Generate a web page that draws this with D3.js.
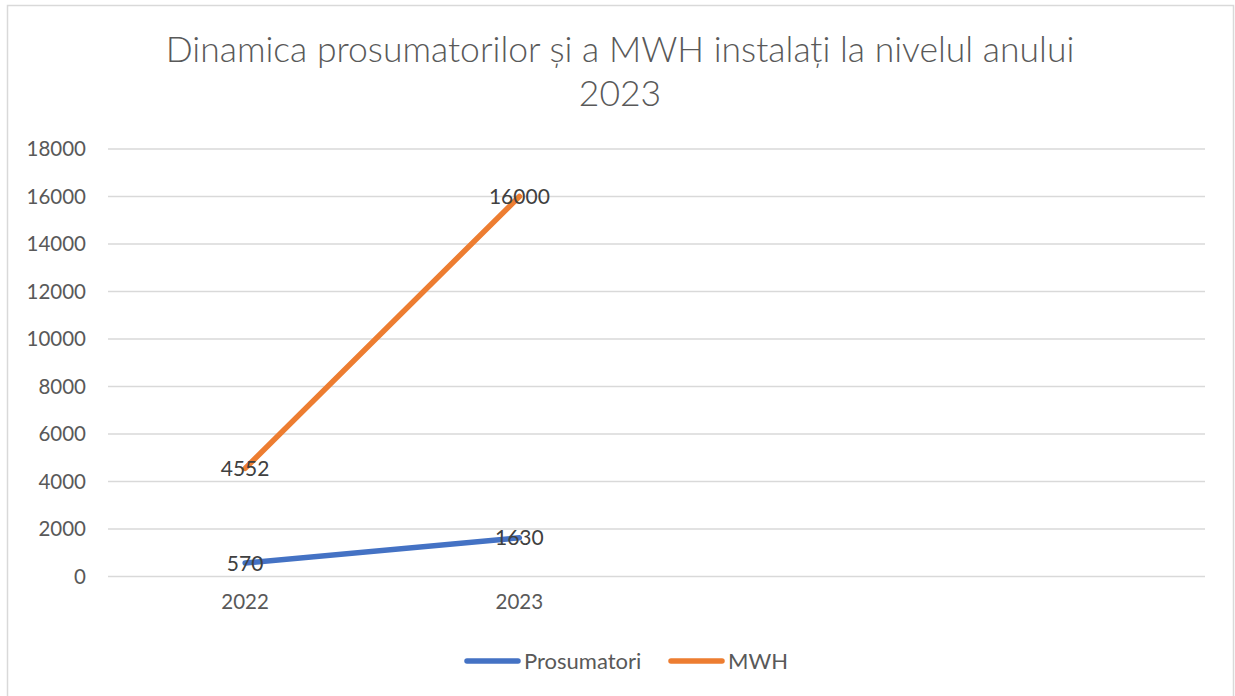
<!DOCTYPE html>
<html lang="ro">
<head>
  <meta charset="utf-8">
  <title>Dinamica prosumatorilor</title>
  <script src="https://cdn.jsdelivr.net/npm/d3@7"></script>
  <style>
    body { margin: 0; background: #fff; }
    text { font-family: Lato, "Open Sans", sans-serif; }
  </style>
</head>
<body>
  <script>
  // date
  var categorii = ["2022", "2023", "", ""];
  var prosumatori = [570, 1630];
  var mwh = [4552, 16000];
  var yTicks = [0, 2000, 4000, 6000, 8000, 10000, 12000, 14000, 16000, 18000];
  var serii = [
    { nume: "Prosumatori", valori: prosumatori, culoare: "#4472C4" },
    { nume: "MWH", valori: mwh, culoare: "#ED7D31" }
  ];

  var width = 1235, height = 696;
  var plot = { left: 108, right: 1205, top: 149, bottom: 576.5 };

  var svg = d3.select("body").append("svg")
    .attr("width", width)
    .attr("height", height);

  // cadrul graficului
  svg.append("rect")
    .attr("x", 7.5).attr("y", 5.5)
    .attr("width", 1226).attr("height", 700)
    .attr("fill", "#fff")
    .attr("stroke", "#d9d9d9")
    .attr("stroke-width", 1.5);

  var x = d3.scaleBand()
    .domain(d3.range(categorii.length))
    .range([plot.left, plot.right])
    .padding(0);

  var y = d3.scaleLinear()
    .domain([0, 18000])
    .range([plot.bottom, plot.top]);

  // titlu
  var titlu = svg.append("g")
    .attr("fill", "#595959")
    .attr("text-anchor", "middle")
    .attr("font-size", 35.5)
    .attr("font-weight", 300);
  titlu.append("text")
    .attr("x", 620).attr("y", 62)
    .text("Dinamica prosumatorilor și a MWH instalați la nivelul anului");
  titlu.append("text")
    .attr("x", 620).attr("y", 106)
    .text("2023");

  // linii de grila
  svg.append("g")
    .attr("stroke", "#d9d9d9")
    .attr("stroke-width", 1.5)
    .selectAll("line")
    .data(yTicks)
    .enter().append("line")
    .attr("x1", plot.left).attr("x2", plot.right)
    .attr("y1", d => y(d)).attr("y2", d => y(d));

  // axa y
  var yAxis = d3.axisLeft(y).tickValues(yTicks).tickFormat(d3.format("d"))
    .tickSize(0).tickPadding(22);
  var gy = svg.append("g")
    .attr("transform", `translate(${plot.left},0)`)
    .call(yAxis);
  gy.select(".domain").remove();
  gy.selectAll("text")
    .attr("font-size", 20.5)
    .attr("fill", "#595959")
    .style("font-family", "Lato, sans-serif");

  // axa x
  var xAxis = d3.axisBottom(x).tickFormat(i => categorii[i]).tickSize(0).tickPadding(18);
  var gx = svg.append("g")
    .attr("transform", `translate(0,${plot.bottom})`)
    .call(xAxis);
  gx.select(".domain").remove();
  gx.selectAll("text")
    .attr("font-size", 20.5)
    .attr("fill", "#595959")
    .style("font-family", "Lato, sans-serif");

  var cx = i => x(i) + x.bandwidth() / 2;
  var linie = d3.line()
    .x((d, i) => cx(i))
    .y(d => y(d));

  svg.append("g")
    .selectAll("path")
    .data(serii)
    .enter().append("path")
    .attr("d", d => linie(d.valori))
    .attr("fill", "none")
    .attr("stroke", d => d.culoare)
    .attr("stroke-width", 5.5)
    .attr("stroke-linecap", "round")
    .attr("stroke-linejoin", "round");

  // etichete de date
  serii.forEach(function(s) {
    svg.append("g")
      .selectAll("text")
      .data(s.valori)
      .enter().append("text")
      .attr("x", (d, i) => cx(i))
      .attr("y", d => y(d))
      .attr("dy", "0.36em")
      .attr("text-anchor", "middle")
      .attr("font-size", 21)
      .attr("fill", "#404040")
      .text(d => d);
  });

  // legenda
  var pozLegenda = [465, 669];
  var leg = svg.append("g")
    .selectAll("g")
    .data(serii)
    .enter().append("g")
    .attr("transform", (d, i) => `translate(${pozLegenda[i]},661)`);
  leg.append("line")
    .attr("x1", 2).attr("x2", 53)
    .attr("stroke", d => d.culoare)
    .attr("stroke-width", 5.5)
    .attr("stroke-linecap", "round");
  leg.append("text")
    .attr("x", 59)
    .attr("dy", "0.36em")
    .attr("font-size", 22)
    .attr("fill", "#595959")
    .text(d => d.nume);
  </script>
</body>
</html>
